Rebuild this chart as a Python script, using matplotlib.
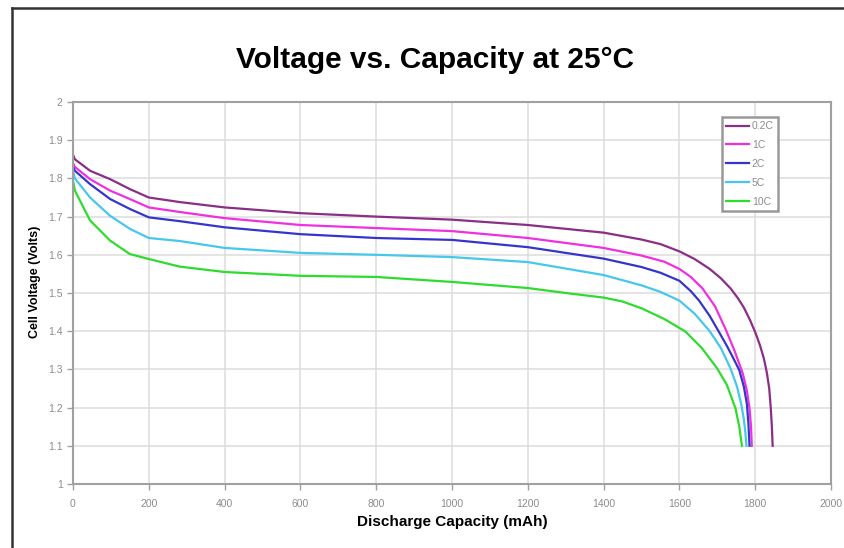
import matplotlib
matplotlib.use("Agg")
import matplotlib.pyplot as plt
from matplotlib.lines import Line2D

# discharge curves, capacity in mAh vs cell voltage in V
x_02c = [0, 5, 45, 98, 150, 200, 282, 400, 600, 800, 1000, 1200, 1400, 1500, 1550, 1600,
         1640, 1680, 1710, 1735, 1754, 1770, 1786, 1801, 1813, 1823, 1831, 1837, 1841, 1844, 1846]
v_02c = [1.862, 1.85, 1.82, 1.798, 1.772, 1.750, 1.738, 1.724, 1.709, 1.700, 1.692, 1.678,
         1.658, 1.640, 1.628, 1.609, 1.589, 1.563, 1.538, 1.512, 1.487, 1.462, 1.430, 1.395,
         1.362, 1.328, 1.29, 1.25, 1.20, 1.15, 1.10]

x_1c = [0, 5, 45, 98, 150, 200, 282, 400, 600, 800, 1000, 1200, 1400, 1500, 1560, 1600,
        1630, 1661, 1694, 1722, 1745, 1767, 1778, 1785, 1789, 1791]
v_1c = [1.84, 1.83, 1.798, 1.768, 1.746, 1.724, 1.712, 1.696, 1.678, 1.67, 1.662, 1.644,
        1.618, 1.598, 1.582, 1.563, 1.542, 1.512, 1.465, 1.405, 1.35, 1.29, 1.245, 1.198,
        1.15, 1.10]

x_2c = [0, 5, 45, 98, 150, 200, 282, 400, 600, 800, 1000, 1200, 1400, 1500, 1550, 1600,
        1630, 1652, 1680, 1705, 1725, 1743, 1758, 1770, 1778, 1782, 1785]
v_2c = [1.83, 1.82, 1.785, 1.746, 1.72, 1.698, 1.688, 1.672, 1.654, 1.644, 1.639, 1.62,
        1.59, 1.568, 1.553, 1.532, 1.505, 1.48, 1.44, 1.397, 1.362, 1.328, 1.298, 1.255,
        1.21, 1.16, 1.10]

x_5c = [0, 5, 45, 98, 150, 200, 282, 400, 600, 800, 1000, 1200, 1400, 1500, 1550, 1600,
        1640, 1680, 1710, 1735, 1752, 1763, 1770, 1774, 1777]
v_5c = [1.82, 1.80, 1.75, 1.702, 1.668, 1.644, 1.636, 1.618, 1.605, 1.60, 1.594, 1.581,
        1.547, 1.52, 1.503, 1.48, 1.446, 1.40, 1.355, 1.302, 1.255, 1.21, 1.17, 1.135, 1.10]

x_10c = [0, 5, 45, 98, 150, 200, 282, 400, 600, 800, 1000, 1200, 1300, 1400, 1449,
         1500, 1560, 1616, 1660, 1700, 1725, 1748, 1758, 1765]
v_10c = [1.794, 1.768, 1.69, 1.637, 1.602, 1.589, 1.569, 1.555, 1.545, 1.542, 1.529, 1.513,
         1.50, 1.488, 1.478, 1.46, 1.432, 1.399, 1.355, 1.302, 1.26, 1.198, 1.15, 1.10]

labels = ["0.2C", "1C", "2C", "5C", "10C"]
colors = ["#8a2e86", "#f030e0", "#3535cc", "#45c8ec", "#2edc2e"]

x_ticks = list(range(0, 2001, 200))
y_ticks = [1, 1.1, 1.2, 1.3, 1.4, 1.5, 1.6, 1.7, 1.8, 1.9, 2]
y_ticklabels = ["1", "1.1", "1.2", "1.3", "1.4", "1.5", "1.6", "1.7", "1.8", "1.9", "2"]

plt.rcParams["font.family"] = ["Liberation Sans", "DejaVu Sans"]

fig = plt.figure(figsize=(8.45, 5.48), dpi=100)
ax = fig.add_axes([73 / 845, 1 - 484 / 548, (831 - 73) / 845, (484 - 102) / 548])

series = [(x_02c, v_02c), (x_1c, v_1c), (x_2c, v_2c), (x_5c, v_5c), (x_10c, v_10c)]
for (xs, vs), lab, col in zip(series, labels, colors):
    ax.plot(xs, vs, color=col, lw=1.6, label=lab)

ax.set_xlim(0, 2000)
ax.set_ylim(1, 2)
ax.set_xticks(x_ticks)
ax.set_yticks(y_ticks)
ax.set_yticklabels(y_ticklabels)
ax.grid(True, color="#dcdcdc", lw=1.1)
ax.set_axisbelow(True)
for sp in ax.spines.values():
    sp.set_color("#a0a0a0")
    sp.set_linewidth(1.5)
ax.tick_params(colors="#a0a0a0", labelcolor="#8c8c8c", labelsize=7.5, length=4, width=1)
ax.tick_params(axis="x", pad=7)

ax.set_xlabel("Discharge Capacity (mAh)", fontsize=11, fontweight="bold", labelpad=4)
ax.set_ylabel("Cell Voltage (Volts)", fontsize=9, fontweight="bold")
ax.yaxis.set_label_coords(-0.042, 0.53)

leg = ax.legend(loc="upper right", bbox_to_anchor=((778 - 73) / 758, (484 - 117) / 382),
                borderaxespad=0, handlelength=2.2, handletextpad=0.3,
                labelspacing=0.85, fancybox=False, framealpha=1,
                prop={"size": 7.5})
leg.get_frame().set_edgecolor("#999999")
leg.get_frame().set_linewidth(1.8)
for t in leg.get_texts():
    t.set_color("#8c8c8c")

fig.text(435 / 845, 1 - 60 / 548, "Voltage vs. Capacity at 25°C", ha="center", va="center",
         fontsize=21.5, fontweight="bold")

# outer frame lines
fig.add_artist(Line2D([12 / 845, 12 / 845], [0, 1 - 8 / 548], color="#333333", lw=1.8))
fig.add_artist(Line2D([12 / 845, 1], [1 - 8 / 548, 1 - 8 / 548], color="#333333", lw=1.8))

fig.savefig("out.png", dpi=100)
